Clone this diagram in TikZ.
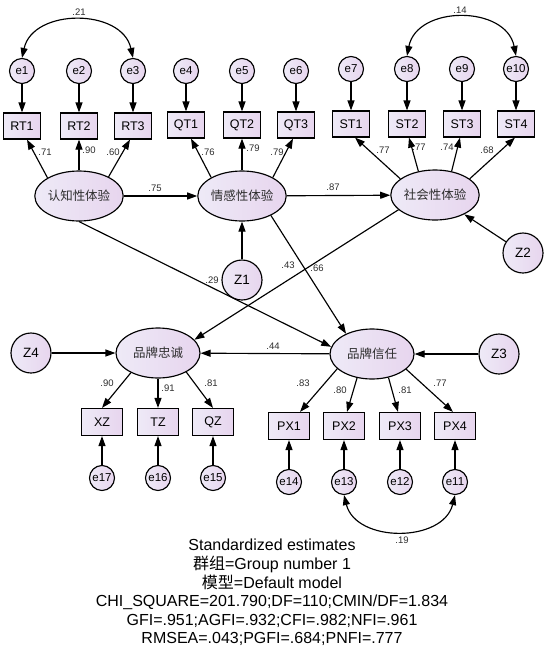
\documentclass[tikz,border=0pt]{standalone}
\usepackage{fontspec}
\setmainfont{Liberation Sans}
\newfontfamily\cjk{Noto Sans CJK SC}
\usetikzlibrary{arrows.meta,calc,shapes.geometric}
\definecolor{fl}{RGB}{238,234,247}
\definecolor{fr}{RGB}{231,213,238}
\definecolor{lbl}{RGB}{45,45,45}
\begin{document}
\begin{tikzpicture}[x=1pt,y=-1pt,line width=1.15pt,
  arr/.style={-{Triangle[length=10pt,width=7pt]}},
  biarr/.style={{Triangle[length=10pt,width=7pt]}-{Triangle[length=10pt,width=7pt]}},
  errc/.style={circle,draw,left color=fl,right color=fr,minimum size=25pt,inner sep=0pt,font=\fontsize{11.5}{11.5}\selectfont},
  dist/.style={circle,draw,left color=fl,right color=fr,minimum size=40pt,inner sep=0pt,font=\fontsize{13.5}{13.5}\selectfont},
  obs/.style={rectangle,draw,left color=fl,right color=fr,minimum width=37pt,minimum height=26pt,inner sep=0pt,font=\fontsize{12.5}{12.5}\selectfont},
  obsb/.style={obs,minimum width=41pt,minimum height=27pt},
  lat/.style={ellipse,draw,left color=fl,right color=fr,minimum width=84pt,minimum height=50pt,inner sep=0pt,text=lbl,font=\cjk\fontsize{12.5}{12.5}\selectfont},
  lab/.style={font=\fontsize{9.5}{9.5}\selectfont,text=lbl,inner sep=0pt},
  ttl/.style={font=\fontsize{16}{16}\selectfont,anchor=base,inner sep=0pt}
]
\fill[white] (0,0) rectangle (544,662);
\useasboundingbox (0,0) rectangle (544,662);

% error circles top
\node[errc] (e1) at (22,71) {e1};
\node[errc] (e2) at (79,71) {e2};
\node[errc] (e3) at (133,71) {e3};
\node[errc] (e4) at (186,71) {e4};
\node[errc] (e5) at (242,71) {e5};
\node[errc] (e6) at (296,71) {e6};
\node[errc] (e7) at (351,69) {e7};
\node[errc] (e8) at (407,69) {e8};
\node[errc] (e9) at (462,69) {e9};
\node[errc] (e10) at (516,69) {e10};

% observed top
\node[obs] (rt1) at (22,126) {RT1};
\node[obs] (rt2) at (79,126) {RT2};
\node[obs] (rt3) at (133,126) {RT3};
\node[obs] (qt1) at (186,125) {QT1};
\node[obs] (qt2) at (242,125) {QT2};
\node[obs] (qt3) at (296,125) {QT3};
\node[obs] (st1) at (351,124) {ST1};
\node[obs] (st2) at (407,124) {ST2};
\node[obs] (st3) at (462,124) {ST3};
\node[obs] (st4) at (516,124) {ST4};

% latents
\node[lat] (c1) at (79,196) {认知性体验};
\node[lat] (qg) at (242,196) {情感性体验};
\node[lat] (sh) at (435,195) {社会性体验};
\node[lat] (zc) at (158,353) {品牌忠诚};
\node[lat] (xr) at (372,354) {品牌信任};

% disturbances
\node[dist] (z1) at (242,280) {Z1};
\node[dist] (z2) at (523,253) {Z2};
\node[dist] (z3) at (499,354) {Z3};
\node[dist] (z4) at (31,353) {Z4};

% observed bottom
\node[obsb] (xz) at (102,422) {XZ};
\node[obsb] (tz) at (158,422) {TZ};
\node[obsb] (qz) at (213,422) {QZ};
\node[obsb] (px1) at (289,426) {PX1};
\node[obsb] (px2) at (344,426) {PX2};
\node[obsb] (px3) at (400,426) {PX3};
\node[obsb] (px4) at (455,426) {PX4};

% error circles bottom
\node[errc] (e17) at (102,478) {e17};
\node[errc] (e16) at (158,478) {e16};
\node[errc] (e15) at (213,478) {e15};
\node[errc] (e14) at (289,482) {e14};
\node[errc] (e13) at (344,482) {e13};
\node[errc] (e12) at (400,482) {e12};
\node[errc] (e11) at (455,482) {e11};

% error arrows
\foreach \a/\b in {e1/rt1,e2/rt2,e3/rt3,e4/qt1,e5/qt2,e6/qt3,e7/st1,e8/st2,e9/st3,e10/st4,
  e17/xz,e16/tz,e15/qz,e14/px1,e13/px2,e12/px3,e11/px4}
  \draw[arr] (\a) -- (\b);

% loadings top
\draw[arr] (c1.150) -- ($(rt1.south)+(5,0)$);
\draw[arr] (c1.north) -- (rt2.south);
\draw[arr] (c1.33) -- ($(rt3.south)+(-3,0)$);
\draw[arr] (qg.149) -- ($(qt1.south)+(5,0)$);
\draw[arr] (qg.north) -- (qt2.south);
\draw[arr] (qg.31) -- ($(qt3.south)+(-3,0)$);
\draw[arr] (sh.155) -- ($(st1.south)+(4,0)$);
\draw[arr] (sh.125) -- ($(st2.south)+(2,0)$);
\draw[arr] (sh.55) -- ($(st3.south)+(-2,0)$);
\draw[arr] (sh.25) -- ($(st4.south)+(-1,0)$);

% structural
\draw[arr] (c1) -- (qg);
\draw[arr] (qg) -- (sh);
\draw[arr] (z1) -- (qg);
\draw[arr] (z2) -- (sh);
\draw[arr] (c1.south) -- (xr.170);
\draw[arr] (qg.-34) -- (xr.142);
\draw[arr] (sh.202) -- (zc.20);
\draw[arr] (xr) -- (zc);
\draw[arr] (z3) -- (xr);
\draw[arr] (z4) -- (zc);

% loadings bottom
\draw[arr] (zc.216) -- (xz.north);
\draw[arr] (zc.south) -- (tz.north);
\draw[arr] (zc.-34) -- (qz.north);
\draw[arr] (xr.203) -- ($(px1.north)+(11,0)$);
\draw[arr] (xr.238) -- ($(px2.north)+(3,0)$);
\draw[arr] (xr.-55) -- ($(px3.north)+(-2,0)$);
\draw[arr] (xr.-24) -- ($(px4.north)+(-2,0)$);

% covariances
\draw[biarr] (e1.north) .. controls (33,8) and (122,8) .. (e3.north);
\draw[biarr] (e8.north) .. controls (417,5) and (506,5) .. (e10.north);
\draw[biarr] (e13.south) .. controls (356,543) and (443,543) .. (e11.south);

% labels
\node[lab] (l21) at (79,12) {.21};
\node[lab] (l14) at (460,10) {.14};
\node[lab] (l71) at (45,152) {.71};
\node[lab] (l90a) at (89,150) {.90};
\node[lab] (l60) at (113,152) {.60};
\node[lab] (l75) at (155,188) {.75};
\node[lab] (l76) at (208,152) {.76};
\node[lab] (l79a) at (253,148) {.79};
\node[lab] (l79b) at (277,152) {.79};
\node[lab] (l87) at (333,187) {.87};
\node[lab] (l77a) at (383,150) {.77};
\node[lab] (l77b) at (419,147) {.77};
\node[lab] (l74) at (447,147) {.74};
\node[lab] (l68) at (487,150) {.68};
\node[lab] (l29) at (212,280) {.29};
\node[lab] (l43) at (288,265) {.43};
\node[lab] (l66) at (317,268) {.66};
\node[lab] (l44) at (273,346) {.44};
\node[lab] (l90b) at (107,383) {.90};
\node[lab] (l91) at (168,388) {.91};
\node[lab] (l81a) at (211,383) {.81};
\node[lab] (l83) at (303,383) {.83};
\node[lab] (l80) at (340,390) {.80};
\node[lab] (l81b) at (405,390) {.81};
\node[lab] (l77c) at (440,383) {.77};
\node[lab] (l19) at (402,540) {.19};

% fit text
\node[ttl] (t1) at (272,550) {Standardized estimates};
\node[ttl] (t2) at (272,569) {{\cjk 群组}=Group number 1};
\node[ttl] (t3) at (272,588) {{\cjk 模型}=Default model};
\node[ttl] (t4) at (272,606) {CHI\_SQUARE=201.790;DF=110;CMIN/DF=1.834};
\node[ttl] (t5) at (272,625) {GFI=.951;AGFI=.932;CFI=.982;NFI=.961};
\node[ttl] (t6) at (272,643) {RMSEA=.043;PGFI=.684;PNFI=.777};
\end{tikzpicture}
\end{document}
